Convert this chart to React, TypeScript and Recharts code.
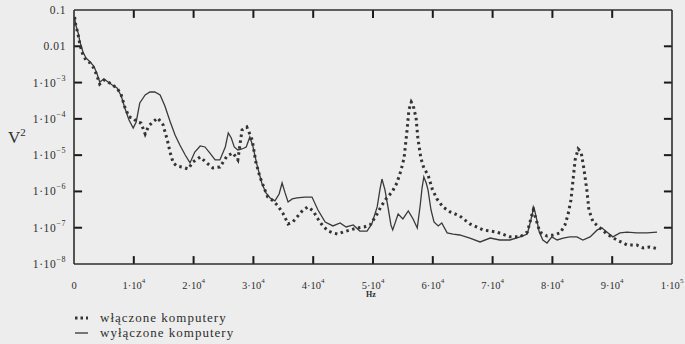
import { LineChart, Line, XAxis, YAxis, ReferenceLine } from "recharts"

const INK = "#2e2e2e"
const SERIF = "'Liberation Serif', 'DejaVu Serif', serif"

const xTicks = [0, 10000, 20000, 30000, 40000, 50000, 60000, 70000, 80000, 90000, 100000]
const xTickBase = ["0", "1·10", "2·10", "3·10", "4·10", "5·10", "6·10", "7·10", "8·10", "9·10", "1·10"]
const xTickExp = ["", "4", "4", "4", "4", "4", "4", "4", "4", "4", "5"]

const yTicks = [1e-8, 1e-7, 1e-6, 1e-5, 1e-4, 1e-3, 0.01, 0.1]
const yTickBase = ["1·10", "1·10", "1·10", "1·10", "1·10", "1·10", "0.01", "0.1"]
const yTickExp = ["−8", "−7", "−6", "−5", "−4", "−3", "", ""]

// włączone komputery (dotted)
const onHz = [100, 300, 700, 1000, 1500, 2000, 2700, 3300, 3800, 4300, 5000, 5700, 6400, 7200, 7900, 8500, 9200, 9900, 10500, 11200, 11900, 12500, 13200, 14000, 14900, 15600, 16100, 16600, 17200, 18100, 19100, 19900, 21100, 22200, 23200, 24400, 25600, 26600, 27400, 28100, 28900, 29800, 30400, 31100, 31800, 32400, 33300, 34100, 35000, 35800, 36600, 37300, 38300, 39100, 40000, 40800, 41600, 42500, 43300, 44100, 45000, 46200, 47300, 48500, 49500, 50500, 51500, 52300, 53200, 54000, 54700, 55200, 55700, 56000, 56400, 56700, 57200, 57500, 58000, 58500, 59200, 59900, 60700, 61700, 62900, 64500, 66200, 68400, 70700, 72900, 74600, 75800, 76800, 77900, 79100, 80100, 81300, 82100, 82600, 83100, 83400, 83800, 84300, 84800, 85300, 85800, 86100, 86800, 88000, 89100, 90800, 92500, 94100, 95200, 96300, 97700]
const onV2 = [0.064, 0.0386, 0.0205, 0.0109, 5.75e-3, 4.19e-3, 3.46e-3, 2.52e-3, 1.62e-3, 9.1e-4, 1.18e-3, 1.04e-3, 8.6e-4, 7.1e-4, 4.55e-4, 2.12e-4, 1.13e-4, 1.06e-4, 8.2e-5, 7.7e-5, 3.83e-5, 6.4e-5, 8.2e-5, 1.06e-4, 6.8e-5, 2.62e-5, 1.15e-5, 6.1e-6, 5.0e-6, 4.7e-6, 4.16e-6, 6.5e-6, 8.9e-6, 6.1e-6, 4.43e-6, 4.7e-6, 9.5e-6, 1.15e-5, 7.4e-6, 4.93e-5, 5.97e-5, 2.62e-5, 6.5e-6, 2.5e-6, 1.24e-6, 7.0e-7, 5.5e-7, 4.0e-7, 2.39e-7, 1.27e-7, 1.44e-7, 1.98e-7, 3.08e-7, 3.73e-7, 2.89e-7, 1.74e-7, 1.12e-7, 8.1e-8, 7.2e-8, 6.7e-8, 7.6e-8, 8.7e-8, 9.8e-8, 1.05e-7, 1.19e-7, 2.11e-7, 4.23e-7, 6.6e-7, 9.7e-7, 1.71e-6, 3.9e-6, 8.4e-6, 4.93e-5, 1.75e-4, 2.92e-4, 2.41e-4, 1.06e-4, 2.97e-5, 8.4e-6, 4.43e-6, 2.84e-6, 1.17e-6, 6.2e-7, 3.73e-7, 2.72e-7, 2.11e-7, 1.27e-7, 8.7e-8, 7.6e-8, 5.6e-8, 5.6e-8, 7.6e-8, 3.08e-7, 7.6e-8, 5.9e-8, 6.3e-8, 7.2e-8, 1.19e-7, 2.25e-7, 5.8e-7, 1.71e-6, 7.4e-6, 1.48e-5, 1.22e-5, 3.9e-6, 9.7e-7, 3.08e-7, 1.44e-7, 9.8e-8, 6.7e-8, 4.59e-8, 3.34e-8, 3.34e-8, 2.77e-8, 2.94e-8, 2.6e-8]

// wyłączone komputery (solid)
const offHz = [100, 300, 700, 1000, 1500, 2000, 2700, 3300, 3800, 4300, 5000, 5700, 6400, 7200, 7900, 8500, 9200, 9900, 10400, 11000, 11900, 12700, 13500, 14400, 15200, 16100, 16900, 17700, 18600, 19400, 20200, 21100, 21900, 22700, 23600, 24400, 25300, 25800, 26300, 26800, 27400, 28100, 28800, 29400, 29900, 30600, 31400, 32100, 32800, 33600, 34300, 34800, 35300, 35800, 36500, 37300, 38600, 39800, 40800, 42000, 43300, 44500, 45500, 46700, 47800, 49000, 49800, 50700, 51200, 51500, 52000, 52500, 53000, 53300, 54200, 55000, 55900, 56700, 57400, 57900, 58200, 58500, 58900, 59200, 59700, 60200, 60900, 61500, 62400, 63400, 64500, 66200, 67900, 69600, 71200, 72900, 74600, 75800, 76400, 76900, 77400, 77800, 78400, 79100, 79900, 80800, 81800, 82900, 84100, 85100, 86300, 87500, 88300, 89100, 90100, 91300, 92500, 94100, 95800, 97500]
const offV2 = [0.064, 0.0386, 0.0232, 0.0131, 6.97e-3, 4.76e-3, 3.69e-3, 2.86e-3, 1.84e-3, 1.04e-3, 1.26e-3, 1.04e-3, 8.6e-4, 7.1e-4, 4.27e-4, 2.0e-4, 9.3e-5, 5.6e-5, 8.2e-5, 2.74e-4, 4.55e-4, 5.5e-4, 5.5e-4, 4.55e-4, 2.26e-4, 8.2e-5, 3.6e-5, 1.91e-5, 1.01e-5, 6.1e-6, 1.22e-5, 1.79e-5, 1.68e-5, 1.15e-5, 7.4e-6, 7.4e-6, 1.68e-5, 4.08e-5, 2.97e-5, 1.68e-5, 1.39e-5, 1.48e-5, 1.68e-5, 3.16e-5, 1.79e-5, 5.4e-6, 1.71e-6, 9.1e-7, 6.6e-7, 5.5e-7, 8.5e-7, 1.71e-6, 9.1e-7, 5.1e-7, 6.2e-7, 6.6e-7, 7.0e-7, 7.0e-7, 3.08e-7, 1.44e-7, 1.12e-7, 1.35e-7, 1.05e-7, 1.19e-7, 8.1e-8, 8.1e-8, 1.27e-7, 3.73e-7, 1.24e-6, 2.2e-6, 1.1e-6, 3.73e-7, 1.19e-7, 8.7e-8, 2.39e-7, 1.74e-7, 2.89e-7, 1.74e-7, 9.8e-8, 4.23e-7, 1.24e-6, 2.5e-6, 1.71e-6, 1.1e-6, 3.08e-7, 1.44e-7, 1.12e-7, 1.35e-7, 7.2e-8, 6.7e-8, 6.3e-8, 5.2e-8, 4.05e-8, 5.2e-8, 4.59e-8, 4.59e-8, 5.6e-8, 6.7e-8, 1.63e-7, 3.73e-7, 1.63e-7, 7.6e-8, 4.59e-8, 3.79e-8, 5.6e-8, 4.59e-8, 5.2e-8, 5.6e-8, 5.6e-8, 4.59e-8, 5.6e-8, 8.7e-8, 9.8e-8, 7.6e-8, 5.6e-8, 7.2e-8, 7.6e-8, 7.2e-8, 7.2e-8, 7.6e-8]

const onData = onHz.map((hz, i) => ({ hz, v: onV2[i] }))
const offData = offHz.map((hz, i) => ({ hz, v: offV2[i] }))

const axisLineStyle = { stroke: INK, strokeWidth: 1.6 }

// inward tick marks, ~8px long, expressed in axis units
const X_MIN = 0
const X_MAX = 100000
const Y_MIN = 1e-8
const Y_MAX = 0.1
const X_TICK_LEN = 1350 // Hz
const Y_TICK_FACTOR = 1.65 // ratio on the log axis

function BottomLabel(props: any) {
  const { x, y, payload } = props
  const i = xTicks.indexOf(payload.value)
  return (
    <text x={x} y={y + 25} textAnchor="middle" fontSize={10.5} fontFamily={SERIF} fill={INK}>
      {xTickBase[i]}
      {xTickExp[i] && <tspan dy={-6} fontSize={7}>{xTickExp[i]}</tspan>}
    </text>
  )
}

function LeftLabel(props: any) {
  const { x, y, payload } = props
  const i = yTicks.indexOf(payload.value)
  return (
    <text x={x - 8} y={y + 4} textAnchor="end" fontSize={11.5} letterSpacing={0.6} fontFamily={SERIF} fill={INK}>
      {yTickBase[i]}
      {yTickExp[i] && <tspan dy={-6} fontSize={8}>{yTickExp[i]}</tspan>}
    </text>
  )
}

const NoLabel = () => <g />

export default function App() {
  const innerX = xTicks.slice(1, -1)
  const innerY = yTicks.slice(1, -1)
  return (
    <div style={{ position: "absolute", left: 0, top: 0, width: 685, height: 344, background: "#ededed", fontFamily: SERIF, color: INK }}>
      <LineChart width={685} height={300} margin={{ top: 10, right: 13, bottom: 0, left: 0 }}>
        <XAxis
          dataKey="hz"
          type="number"
          domain={[X_MIN, X_MAX]}
          ticks={xTicks}
          interval={0}
          height={36}
          tickSize={0}
          tickMargin={0}
          tickLine={false}
          axisLine={axisLineStyle}
          tick={(p: any) => <BottomLabel {...p} />}
          allowDataOverflow
        />
        <XAxis
          xAxisId="tm"
          orientation="top"
          mirror
          type="number"
          domain={[X_MIN, X_MAX]}
          ticks={xTicks}
          height={10}
          tickLine={false}
          axisLine={axisLineStyle}
          tick={<NoLabel />}
        />
        <YAxis
          type="number"
          scale="log"
          domain={[Y_MIN, Y_MAX]}
          ticks={yTicks}
          interval={0}
          width={74}
          tickSize={0}
          tickMargin={0}
          tickLine={false}
          axisLine={axisLineStyle}
          tick={(p: any) => <LeftLabel {...p} />}
          allowDataOverflow
        />
        <YAxis
          yAxisId="rm"
          orientation="right"
          mirror
          type="number"
          scale="log"
          domain={[Y_MIN, Y_MAX]}
          ticks={yTicks}
          width={10}
          tickLine={false}
          axisLine={axisLineStyle}
          tick={<NoLabel />}
          allowDataOverflow
        />

        {innerX.map((t) => (
          <ReferenceLine
            key={`b${t}`}
            segment={[{ x: t, y: Y_MIN }, { x: t, y: Y_MIN * Y_TICK_FACTOR }]}
            stroke="#1a1a1a"
            strokeWidth={2}
            ifOverflow="visible"
          />
        ))}
        {innerX.map((t) => (
          <ReferenceLine
            key={`t${t}`}
            segment={[{ x: t, y: Y_MAX }, { x: t, y: Y_MAX / Y_TICK_FACTOR }]}
            stroke="#1a1a1a"
            strokeWidth={2}
            ifOverflow="visible"
          />
        ))}
        {innerY.map((t) => (
          <ReferenceLine
            key={`l${t}`}
            segment={[{ x: X_MIN, y: t }, { x: X_MIN + X_TICK_LEN, y: t }]}
            stroke="#1a1a1a"
            strokeWidth={2}
            ifOverflow="visible"
          />
        ))}
        {innerY.map((t) => (
          <ReferenceLine
            key={`r${t}`}
            segment={[{ x: X_MAX - X_TICK_LEN, y: t }, { x: X_MAX, y: t }]}
            stroke="#1a1a1a"
            strokeWidth={2}
            ifOverflow="visible"
          />
        ))}

        <Line
          data={offData}
          dataKey="v"
          type="linear"
          stroke="#3a3a3a"
          strokeWidth={1.3}
          dot={false}
          isAnimationActive={false}
        />
        <Line
          data={onData}
          dataKey="v"
          type="linear"
          stroke="#333"
          strokeWidth={3}
          strokeDasharray="2.5 3.5"
          dot={false}
          isAnimationActive={false}
        />
      </LineChart>

      <div style={{ position: "absolute", left: 8, top: 126, fontSize: 17 }}>
        V<sup style={{ fontSize: 11 }}>2</sup>
      </div>
      <div style={{ position: "absolute", left: 366, top: 291, fontSize: 8, lineHeight: "8px", fontWeight: "bold" }}>Hz</div>

      <div style={{ position: "absolute", left: 74, top: 310, fontSize: 13, lineHeight: "15px", letterSpacing: 1 }}>
        <div style={{ display: "flex", alignItems: "center" }}>
          <svg width={16} height={10}>
            <line x1={1} x2={14} y1={5} y2={5} stroke="#333" strokeWidth={3} strokeDasharray="2.5 3" />
          </svg>
          <span style={{ marginLeft: 10 }}>włączone komputery</span>
        </div>
        <div style={{ display: "flex", alignItems: "center" }}>
          <svg width={16} height={10}>
            <line x1={1} x2={14} y1={5} y2={5} stroke="#333" strokeWidth={1.3} />
          </svg>
          <span style={{ marginLeft: 10 }}>wyłączone komputery</span>
        </div>
      </div>
    </div>
  )
}
